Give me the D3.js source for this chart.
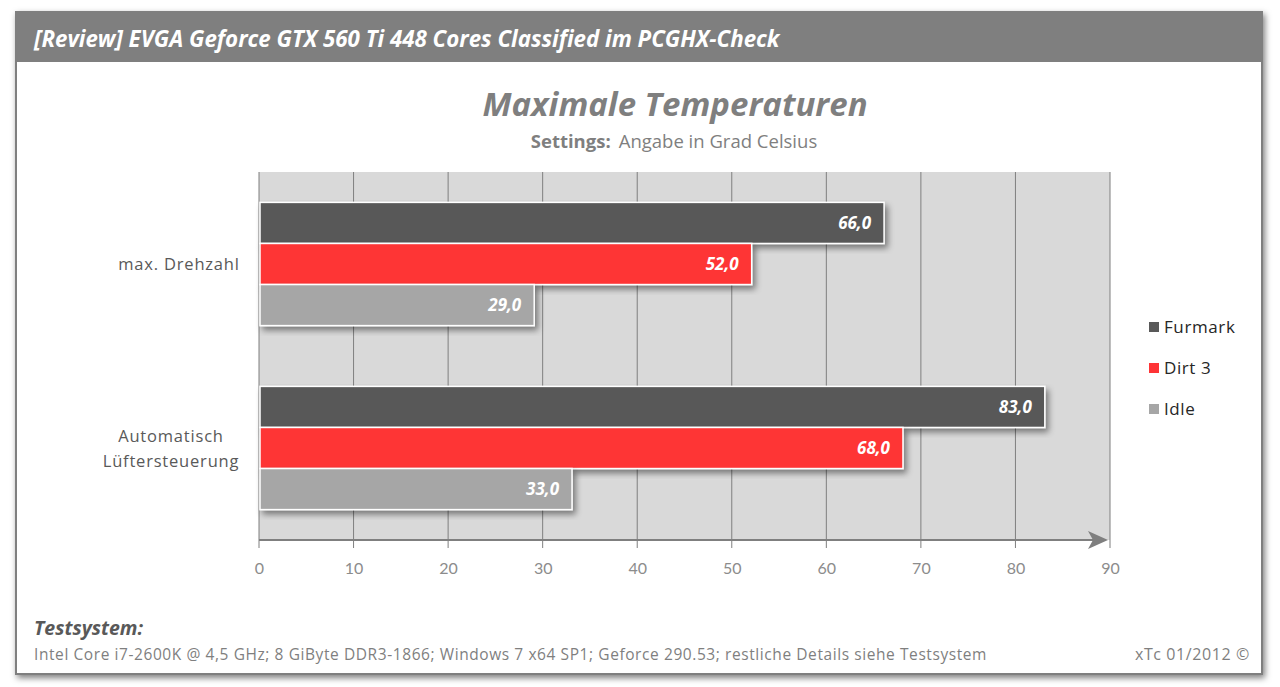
<!DOCTYPE html>
<html><head><meta charset="utf-8">
<script src="https://cdn.jsdelivr.net/npm/d3@7"></script>
<style>body{margin:0;background:#fff}svg{display:block;font-family:"Open Sans",Lato,sans-serif}</style>
</head><body>
<script>
const categories = ["max. Drehzahl", "Automatisch Lüftersteuerung"];
const seriesNames = ["Furmark", "Dirt 3", "Idle"];
const furmark = [66.0, 83.0];
const dirt3 = [52.0, 68.0];
const idle = [29.0, 33.0];
const xTicks = [0,10,20,30,40,50,60,70,80,90];
const colors = ["#595959", "#fe3436", "#a6a6a6"];

const W = 1280, H = 687;
const svg = d3.select("body").append("svg").attr("width", W).attr("height", H);
const defs = svg.append("defs");
const f1 = defs.append("filter").attr("id","sh").attr("x","-5%").attr("y","-5%").attr("width","115%").attr("height","130%");
f1.append("feDropShadow").attr("dx",3).attr("dy",4).attr("stdDeviation",3).attr("flood-color","#000").attr("flood-opacity",0.45);
const f2 = defs.append("filter").attr("id","psh").attr("x","-2%").attr("y","-2%").attr("width","104%").attr("height","106%");
f2.append("feDropShadow").attr("dx",2).attr("dy",3).attr("stdDeviation",3).attr("flood-color","#000").attr("flood-opacity",0.5);

// panel
svg.append("rect").attr("x",16).attr("y",12).attr("width",1246).attr("height",662).attr("fill","#fff").attr("stroke","#7f7f7f").attr("stroke-width",2).attr("filter","url(#psh)");
svg.append("rect").attr("x",16).attr("y",12).attr("width",1246).attr("height",50).attr("fill","#7f7f7f");
svg.append("text").attr("x",34).attr("y",47).attr("fill","#fff").attr("font-size",22.3).attr("font-weight","bold").attr("font-style","italic")
  .text("[Review] EVGA Geforce GTX 560 Ti 448 Cores Classified im PCGHX-Check");

svg.append("text").attr("x",675).attr("y",116).attr("text-anchor","middle").attr("fill","#7f7f7f").attr("font-size",33).attr("font-weight","bold").attr("font-style","italic").text("Maximale Temperaturen");
const st = svg.append("text").attr("x",674).attr("y",148).attr("text-anchor","middle").attr("fill","#7f7f7f").attr("font-size",18.5);
st.append("tspan").attr("font-weight","bold").attr("font-size",18.5).text("Settings:");
st.append("tspan").attr("dx",8).text("Angabe in Grad Celsius");

// plot
const x0 = 259, x1 = 1110, yTop = 172, yBot = 540;
const x = d3.scaleLinear().domain([0, 90]).range([x0, x1]);
const y = d3.scaleBand().domain(categories).range([yTop, yBot]).paddingInner(0).paddingOuter(0);
const inner = d3.scaleBand().domain(seriesNames).range([0, y.bandwidth()]).paddingOuter(0.74).paddingInner(0);

svg.append("rect").attr("x",x0).attr("y",yTop).attr("width",x1-x0).attr("height",yBot-yTop).attr("fill","#d9d9d9");
svg.append("g").selectAll("line").data(xTicks).join("line")
  .attr("x1",d=>x(d)).attr("x2",d=>x(d)).attr("y1",yTop).attr("y2",yBot+8).attr("stroke","#7f7f7f").attr("stroke-width",1);

const axis = d3.axisBottom(x).tickValues(xTicks).tickSize(0).tickPadding(23).tickFormat(d3.format("d"));
const ag = svg.append("g").attr("transform",`translate(0,${yBot})`).call(axis);
ag.select(".domain").remove();
ag.selectAll("text").attr("fill","#8c8c8c").attr("font-size",16).attr("font-family","Lato,'Open Sans',sans-serif");
svg.append("line").attr("x1",x0).attr("x2",x1-4).attr("y1",yBot).attr("y2",yBot).attr("stroke","#7f7f7f").attr("stroke-width",2);
svg.append("path").attr("d",`M${x1-22},${yBot-9} L${x1-2},${yBot} L${x1-22},${yBot+9} L${x1-17},${yBot} Z`).attr("fill","#7f7f7f");

const data = [furmark, dirt3, idle];
const fmt = v => v.toFixed(1).replace(".", ",");
categories.forEach((c, ci) => {
  const g = svg.append("g");
  seriesNames.forEach((s, si) => {
    const v = data[si][ci];
    const by = y(c) + inner(s);
    g.append("rect").attr("x",x(0)+1).attr("y",by).attr("width",x(v)-x(0)).attr("height",inner.bandwidth())
      .attr("fill",colors[si]).attr("stroke","#fff").attr("stroke-width",1.5).attr("filter","url(#sh)");
  });
  seriesNames.forEach((s, si) => {
    const v = data[si][ci];
    const by = y(c) + inner(s);
    g.append("text").attr("x",x(v)-12).attr("y",by+inner.bandwidth()/2+6).attr("text-anchor","end")
      .attr("fill","#fff").attr("font-size",17).attr("font-weight","bold").attr("font-style","italic").text(fmt(v));
  });
});

// category labels
const catLines = [["max. Drehzahl"], ["Automatisch", "Lüftersteuerung"]];
categories.forEach((c, ci) => {
  const lines = catLines[ci];
  const cy = y(c) + y.bandwidth()/2;
  const t = svg.append("text").attr("text-anchor","middle").attr("fill","#595959").attr("font-size",16.5).attr("letter-spacing",0.8);
  lines.forEach((l, li) => {
    t.append("tspan").attr("x", lines.length > 1 ? 171 : 179).attr("y", cy + 6 + (li - (lines.length-1)/2) * 25).text(l);
  });
});

// legend
const lg = svg.append("g");
seriesNames.forEach((s, i) => {
  const ly = 327 + i * 41;
  lg.append("rect").attr("x",1149).attr("y",ly-5).attr("width",10).attr("height",10).attr("fill",colors[i]);
  lg.append("text").attr("x",1164).attr("y",ly+6).attr("fill","#262626").attr("font-size",17).attr("letter-spacing",0.6).text(s);
});

// footer
svg.append("text").attr("x",34).attr("y",635).attr("fill","#595959").attr("font-size",19.5).attr("font-weight","bold").attr("font-style","italic").text("Testsystem:");
svg.append("text").attr("x",34).attr("y",660).attr("fill","#7f7f7f").attr("font-size",15.5).attr("letter-spacing",0.58)
  .text("Intel Core i7-2600K @ 4,5 GHz; 8 GiByte DDR3-1866; Windows 7 x64 SP1; Geforce 290.53; restliche Details siehe Testsystem");
svg.append("text").attr("x",1250).attr("y",660).attr("text-anchor","end").attr("fill","#7f7f7f").attr("font-size",16).attr("letter-spacing",0.6).text("xTc 01/2012 ©");
</script>
</body></html>
